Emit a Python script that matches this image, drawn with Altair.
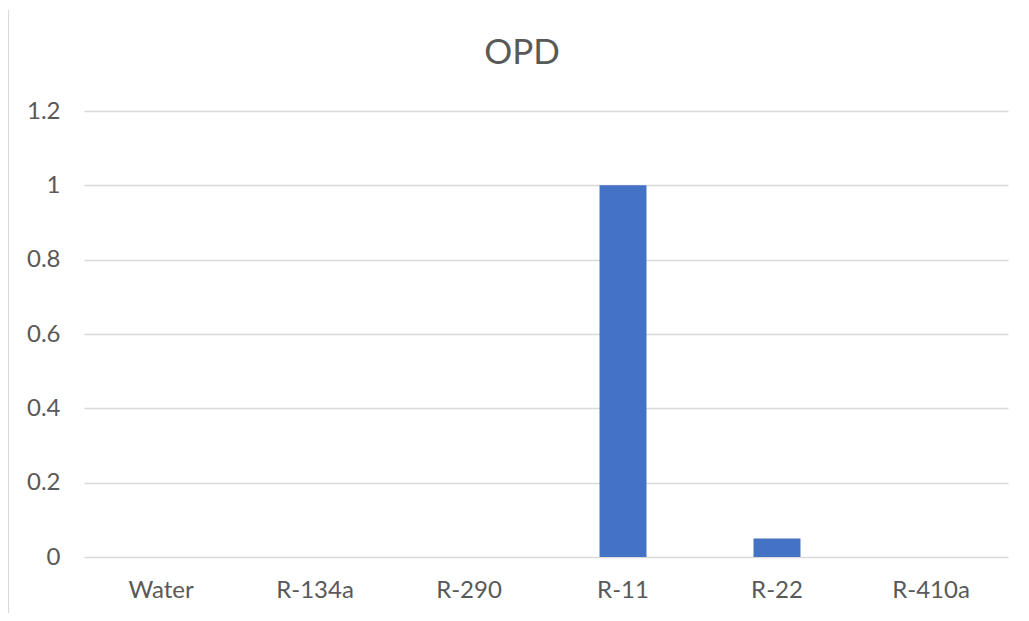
import altair as alt
import pandas as pd

categories = ["Water", "R-134a", "R-290", "R-11", "R-22", "R-410a"]
opd_values = [0, 0, 0, 1, 0.05, 0]
y_ticks = [0, 0.2, 0.4, 0.6, 0.8, 1, 1.2]
title_text = ["OPD"]

df = pd.DataFrame({"cat": categories, "opd": opd_values})
tdf = pd.DataFrame({"t": title_text})

FONT = "Lato"
TXT = "#595959"

bars = alt.Chart(df).mark_bar(color="#4472C4").encode(
    x=alt.X("cat:N", sort=categories, title=None,
            scale=alt.Scale(paddingInner=0.695, paddingOuter=0.3475),
            axis=alt.Axis(labelAngle=0, domain=False, ticks=False,
                          labelPadding=21, labelFontSize=24, labelColor=TXT,
                          labelFont=FONT, grid=False)),
    y=alt.Y("opd:Q", title=None,
            scale=alt.Scale(domain=[0, 1.2], nice=False),
            axis=alt.Axis(values=y_ticks, format="~g", domain=False,
                          ticks=False, labelPadding=24, labelFontSize=24,
                          labelColor=TXT, labelFont=FONT, gridColor="#d9d9d9",
                          gridWidth=1.5, labelFlush=False)),
)

border = alt.Chart(df).mark_rule(color="#d9d9d9", strokeWidth=2).encode(
    x=alt.value(-76), y=alt.value(-101), y2=alt.value(504)
)

title = alt.Chart(tdf).mark_text(fontSize=35, font=FONT, color=TXT,
                                 align="center", baseline="middle").encode(
    text="t:N", x=alt.value(438), y=alt.value(-58)
)

chart = (border + bars + title).properties(
    width=924, height=446,
    autosize=alt.AutoSizeParams(type="none"),
    padding={"left": 76, "top": 103, "right": 13, "bottom": 56},
    background="white",
).configure_view(strokeOpacity=0)

chart.save("out.html", embed_options={"renderer": "svg", "actions": False})
